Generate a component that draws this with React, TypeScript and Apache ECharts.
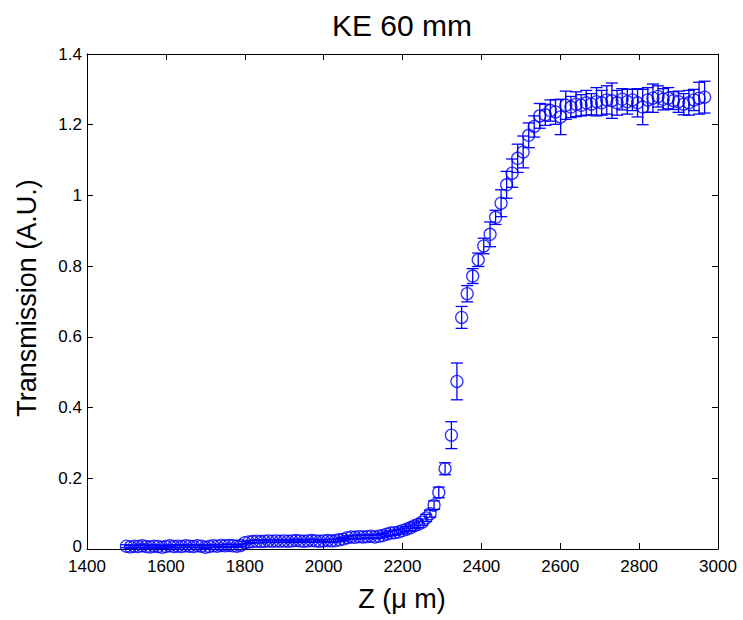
import React, { useEffect, useRef } from "react";
import * as echarts from "echarts";

// Z position (µm)
const zPositions = [
  1500, 1510, 1520, 1530, 1540, 1550, 1560, 1570, 1580, 1590,
  1600, 1610, 1620, 1630, 1640, 1650, 1660, 1670, 1680, 1690,
  1700, 1710, 1720, 1730, 1740, 1750, 1760, 1770, 1780, 1790,
  1800, 1810, 1820, 1830, 1840, 1850, 1860, 1870, 1880, 1890,
  1900, 1910, 1920, 1930, 1940, 1950, 1960, 1970, 1980, 1990,
  2000, 2010, 2020, 2030, 2040, 2050, 2060, 2070, 2080, 2090,
  2100, 2110, 2120, 2130, 2140, 2150, 2160, 2170, 2180, 2190,
  2200, 2210, 2220, 2230, 2240, 2250, 2260, 2270, 2280,
  2292, 2308, 2324, 2338, 2350, 2364, 2378, 2392, 2406, 2422,
  2436, 2450, 2464, 2478, 2492, 2506, 2520, 2534, 2548,
  2562, 2575, 2588, 2601, 2614, 2627, 2640, 2653, 2666, 2679,
  2692, 2705, 2718, 2731, 2744, 2757, 2770, 2783, 2796, 2809,
  2822, 2835, 2848, 2861, 2874, 2887, 2900, 2913, 2926, 2939,
  2952, 2966,
];

// Transmission (A.U.)
const transmission = [
  0.008, 0.006, 0.008, 0.007, 0.009, 0.007, 0.006, 0.008, 0.007, 0.005,
  0.007, 0.009, 0.007, 0.008, 0.007, 0.009, 0.008, 0.007, 0.009, 0.008,
  0.005, 0.007, 0.009, 0.008, 0.010, 0.009, 0.010, 0.009, 0.008, 0.010,
  0.018, 0.020, 0.021, 0.022, 0.021, 0.022, 0.023, 0.022, 0.023, 0.022,
  0.023, 0.022, 0.023, 0.024, 0.023, 0.022, 0.023, 0.024, 0.023, 0.022,
  0.023, 0.024, 0.023, 0.024, 0.026, 0.028, 0.032, 0.034, 0.033, 0.035,
  0.034, 0.035, 0.036, 0.034, 0.036, 0.038, 0.042, 0.045, 0.046, 0.048,
  0.052, 0.056, 0.060, 0.066, 0.070, 0.076, 0.088, 0.100, 0.124,
  0.160, 0.227, 0.322, 0.474, 0.655, 0.722, 0.772, 0.818, 0.857, 0.890,
  0.938, 0.978, 1.030, 1.063, 1.105, 1.123, 1.170, 1.195, 1.225,
  1.228, 1.240, 1.236, 1.222, 1.255, 1.250, 1.258, 1.255, 1.262, 1.258,
  1.265, 1.262, 1.270, 1.268, 1.262, 1.272, 1.265, 1.270, 1.262, 1.250,
  1.270, 1.275, 1.280, 1.272, 1.275, 1.268, 1.265, 1.258, 1.262, 1.270,
  1.275, 1.278,
];

// Error bar half-lengths
const errors = [
  0.004, 0.004, 0.003, 0.004, 0.005, 0.004, 0.003, 0.004, 0.004, 0.003,
  0.004, 0.003, 0.004, 0.004, 0.003, 0.004, 0.004, 0.003, 0.004, 0.004,
  0.004, 0.003, 0.004, 0.004, 0.003, 0.004, 0.004, 0.004, 0.003, 0.004,
  0.004, 0.004, 0.003, 0.004, 0.004, 0.003, 0.004, 0.004, 0.004, 0.003,
  0.004, 0.004, 0.003, 0.004, 0.004, 0.003, 0.004, 0.004, 0.004, 0.003,
  0.004, 0.003, 0.004, 0.004, 0.004, 0.005, 0.005, 0.004, 0.005, 0.005,
  0.005, 0.004, 0.005, 0.005, 0.005, 0.006, 0.006, 0.006, 0.007, 0.006,
  0.007, 0.007, 0.008, 0.008, 0.009, 0.009, 0.010, 0.010, 0.012,
  0.015, 0.017, 0.038, 0.052, 0.031, 0.023, 0.021, 0.019, 0.022, 0.035,
  0.020, 0.038, 0.038, 0.040, 0.040, 0.045, 0.035, 0.030, 0.035,
  0.030, 0.030, 0.035, 0.050, 0.040, 0.030, 0.035, 0.030, 0.035, 0.030,
  0.040, 0.035, 0.040, 0.050, 0.035, 0.030, 0.035, 0.030, 0.040, 0.050,
  0.035, 0.040, 0.030, 0.030, 0.030, 0.025, 0.030, 0.030, 0.035, 0.030,
  0.045, 0.045,
];

const TITLE = "KE 60 mm";
const X_TITLE = "Z (\u03bc m)";
const Y_TITLE = "Transmission (A.U.)";

export default function App() {
  const ref = useRef<HTMLDivElement>(null);

  useEffect(() => {
    const chart = echarts.init(ref.current as HTMLDivElement, null, { renderer: "svg" });
    const blue = "#0000ff";
    const font = "'Liberation Sans', Arial, Helvetica, sans-serif";

    const points = zPositions.map((z, i) => [z, transmission[i]]);
    const bars = zPositions.map((z, i) => [z, transmission[i] - errors[i], transmission[i] + errors[i]]);

    const lineStyle = { color: "#000", width: 1 };
    const tick = { show: true, inside: true, length: 6, lineStyle };

    const xBase = { type: "value", min: 1400, max: 3000, interval: 200, splitLine: { show: false } };
    const yBase = { type: "value", min: 0, max: 1.4, interval: 0.2, splitLine: { show: false } };

    chart.setOption({
      animation: false,
      backgroundColor: "#ffffff",
      grid: { left: 87, top: 54, width: 631, height: 495 },
      xAxis: [
        {
          ...xBase,
          position: "bottom",
          axisLine: { show: true, onZero: false, lineStyle },
          axisTick: tick,
          axisLabel: {
            show: true,
            margin: 10,
            color: "#000",
            fontSize: 17,
            lineHeight: 14,
            fontFamily: font,
            formatter: (v: number) => String(v),
          },
        },
        {
          ...xBase,
          position: "top",
          axisLine: { show: true, onZero: false, lineStyle },
          axisTick: tick,
          axisLabel: { show: false },
        },
      ],
      yAxis: [
        {
          ...yBase,
          position: "left",
          axisLine: { show: true, onZero: false, lineStyle },
          axisTick: tick,
          axisLabel: {
            show: true,
            margin: 5,
            color: "#000",
            fontSize: 17,
            lineHeight: 14,
            fontFamily: font,
            formatter: (v: number) => (v === 0 ? "{zero|0}" : String(Math.round(v * 10) / 10)),
            rich: {
              zero: {
                fontSize: 17,
                fontFamily: font,
                color: "#000",
                lineHeight: 14,
                padding: [0, 0, 6, 0],
              },
            },
          },
        },
        {
          ...yBase,
          position: "right",
          axisLine: { show: true, onZero: false, lineStyle },
          axisTick: tick,
          axisLabel: { show: false },
        },
      ],
      series: [
        {
          type: "custom",
          xAxisIndex: 0,
          yAxisIndex: 0,
          silent: true,
          data: bars,
          encode: { x: 0, y: [1, 2] },
          renderItem: (params: any, api: any) => {
            const x = api.value(0);
            const lo = api.coord([x, api.value(1)]);
            const hi = api.coord([x, api.value(2)]);
            const half = 6;
            const style = { stroke: blue, lineWidth: 1.3, fill: "none" };
            return {
              type: "group",
              children: [
                { type: "line", shape: { x1: hi[0], y1: hi[1], x2: lo[0], y2: lo[1] }, style },
                { type: "line", shape: { x1: hi[0] - half, y1: hi[1], x2: hi[0] + half, y2: hi[1] }, style },
                { type: "line", shape: { x1: lo[0] - half, y1: lo[1], x2: lo[0] + half, y2: lo[1] }, style },
              ],
            };
          },
          z: 2,
        },
        {
          type: "scatter",
          xAxisIndex: 0,
          yAxisIndex: 0,
          silent: true,
          data: points,
          symbol: "circle",
          symbolSize: 12,
          itemStyle: { color: "rgba(255,255,255,0)", borderColor: blue, borderWidth: 1.3 },
          z: 3,
        },
      ],
      graphic: [
        {
          type: "text",
          x: 402,
          y: 25.5,
          style: { text: TITLE, fontSize: 30, fontFamily: font, fill: "#000", align: "center", verticalAlign: "middle" },
        },
        {
          type: "text",
          x: 402,
          y: 599,
          style: { text: X_TITLE, fontSize: 27, fontFamily: font, fill: "#000", align: "center", verticalAlign: "middle" },
        },
        {
          type: "text",
          x: 27,
          y: 298,
          rotation: Math.PI / 2,
          style: { text: Y_TITLE, fontSize: 27, fontFamily: font, fill: "#000", align: "center", verticalAlign: "middle" },
        },
      ],
    });

    return () => chart.dispose();
  }, []);

  return (
    <div
      ref={ref}
      style={{ position: "fixed", left: 0, top: 0, width: 743, height: 620, background: "#ffffff" }}
    />
  );
}
